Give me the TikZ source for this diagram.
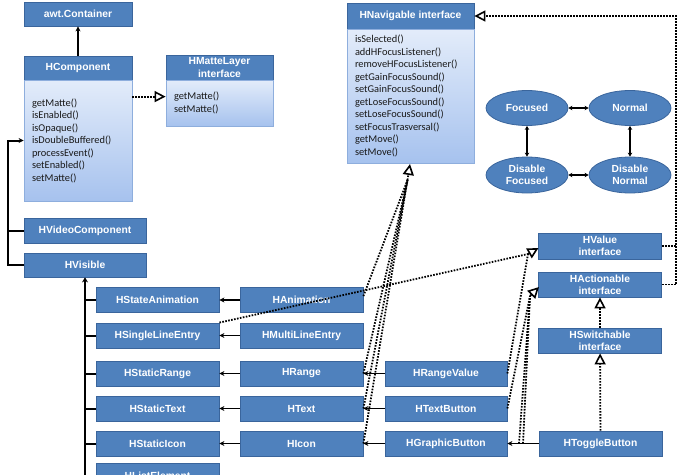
\documentclass[tikz,border=0pt]{standalone}
\usepackage{fontspec}
\setmainfont{Liberation Sans}
\newfontfamily\methfont{Carlito}
\usetikzlibrary{arrows.meta,calc,shapes.geometric}
\definecolor{hdr}{HTML}{4F81BD}
\definecolor{hdrdraw}{HTML}{3A659C}
\definecolor{bodytop}{HTML}{E3ECFA}
\definecolor{bodybot}{HTML}{A6C2EE}
\definecolor{bodydraw}{HTML}{8EAEDD}
\begin{document}
\begin{tikzpicture}[x=1pt,y=-1pt,
  cls/.style={draw=hdrdraw, fill=hdr, text=white, line width=0.8pt,
    font=\fontsize{10.3}{12.3}\selectfont\bfseries, inner sep=0pt,
    minimum height=25pt, minimum width=123pt, align=center},
  body/.style={draw=bodydraw, top color=bodytop, bottom color=bodybot, line width=0.8pt,
    inner xsep=8pt, inner ysep=0pt, align=left, text=black!90,
    font=\methfont\fontsize{10.4}{12.5}\selectfont},
  st/.style={ellipse, draw=hdrdraw, fill=hdr, text=white, line width=0.8pt,
    font=\fontsize{10.3}{12.3}\selectfont\bfseries, inner sep=0pt,
    minimum width=82pt, minimum height=35pt, align=center},
  inh/.style={line width=1.5pt, -{Stealth[length=5pt,width=5pt]}},
  bidi/.style={line width=1.3pt, {Stealth[length=4pt,width=4.5pt]}-{Stealth[length=4pt,width=4.5pt]}},
  real/.style={line width=1.8pt, dash pattern=on 1.6pt off 1.4pt},
  realtri/.style={real, -{Triangle[open,length=11pt,width=11pt,line width=1.6pt]}}
]
\useasboundingbox (0,0) rectangle (682,474);
\clip (0,0) rectangle (682,474);

% top-left classes
\node[cls, minimum width=108pt, minimum height=24pt] (awt) at (78,14) {awt.Container};
\node[cls, minimum width=108pt, minimum height=24pt] (hcomp) at (78,68) {HComponent};
\node[body, minimum width=108pt, text width=92pt, minimum height=121pt] (hcompb) at (78,140.5)
  {getMatte()\\isEnabled()\\isOpaque()\\isDoubleBuffered()\\processEvent()\\setEnabled()\\setMatte()};
\node[cls, minimum width=107pt, minimum height=25pt] (matte) at (219.5,67.5) {HMatteLayer\\interface};
\node[body, minimum width=107pt, text width=91pt, minimum height=46pt] (matteb) at (219.5,103)
  {getMatte()\\setMatte()};

% HNavigable
\node[cls, minimum width=127pt, minimum height=26pt] (nav) at (410.5,16) {HNavigable interface};
\node[body, minimum width=127pt, text width=111pt, minimum height=134pt] (navb) at (410.5,96)
  {isSelected()\\addHFocusListener()\\removeHFocusListener()\\getGainFocusSound()\\setGainFocusSound()\\getLoseFocusSound()\\setLoseFocusSound()\\setFocusTrasversal()\\getMove()\\setMove()};

% states
\node[st] (foc) at (527,108) {Focused};
\node[st] (nor) at (630,108) {Normal};
\node[st, minimum height=36pt] (dfoc) at (527,175) {Disable\\Focused};
\node[st, minimum height=36pt] (dnor) at (630,175) {Disable\\Normal};
\draw[bidi] (foc) -- (nor);
\draw[bidi] (dfoc) -- (dnor);
\draw[bidi] (foc) -- (dfoc);
\draw[bidi] (nor) -- (dnor);

% left hierarchy
\node[cls, minimum width=122pt] (hvid) at (85,230.5) {HVideoComponent};
\node[cls, minimum width=122pt, minimum height=24pt] (hvis) at (85,265) {HVisible};

\node[cls] (hsa) at (157.5,300) {HStateAnimation};
\node[cls] (hsle) at (157.5,335.5) {HSingleLineEntry};
\node[cls] (hsr) at (157.5,373.5) {HStaticRange};
\node[cls] (hst) at (157.5,408.5) {HStaticText};
\node[cls] (hsi) at (157.5,443.5) {HStaticIcon};
\node[cls] (hle) at (157.5,476) {HListElement};

\node[cls] (hanim) at (301.5,300) {HAnimation};
\node[cls] (hmle) at (301.5,335.5) {HMultiLineEntry};
\node[cls] (hrange) at (301.5,373.5) {HRange};
\node[cls] (htext) at (301.5,408.5) {HText};
\node[cls] (hicon) at (301.5,443.5) {HIcon};

\node[cls, minimum width=122pt] (hrv) at (446,373.5) {HRangeValue};
\node[cls, minimum width=122pt] (htb) at (446,408.5) {HTextButton};
\node[cls, minimum width=122pt] (hgb) at (446,443.5) {HGraphicButton};
\node[cls] (htog) at (600.5,443.5) {HToggleButton};

\node[cls, minimum height=26pt] (hval) at (600,246) {HValue\\interface};
\node[cls] (hact) at (600,284.5) {HActionable\\interface};
\node[cls] (hsw) at (600,340.5) {HSwitchable\\interface};

% solid inheritance
\draw[line width=2pt, -{Stealth[length=5pt,width=5pt]}] (hcomp) -- (awt);
\draw[line width=2pt, -{Stealth[length=5pt,width=5pt]}] (hvis.west) -- ++(-16,0) |- (hcompb.west);
\draw[line width=2pt] (hvid.west) -- ++(-16,0);
\coordinate (vbot) at (85,480);
\draw[line width=2.8pt, -{Stealth[length=5pt,width=6pt]}] (vbot) -- (hvis.south);
\foreach \n in {hsa,hsle,hsr,hst,hsi,hle}{
  \draw[line width=2pt] (\n.west -| hvis.south) -- (\n.west);
}
\draw[inh] (hanim) -- (hsa);
\draw[inh] (hmle) -- (hsle);
\draw[inh] (hrange) -- (hsr);
\draw[inh] (htext) -- (hst);
\draw[inh] (hicon) -- (hsi);
\draw[inh] (hrv) -- (hrange);
\draw[inh] (htb) -- (htext);
\draw[inh] (hgb) -- (hicon);
\draw[inh] (htog) -- (hgb);

% realizations
\draw[realtri] ($(hcompb.north east)+(0,17)$) -- ($(matteb.north west)+(0,17)$);

\coordinate (navtip) at (410,164);
\coordinate (navbase) at (407.5,180);
\draw[real] ($(hanim.north east)+(0,9)$) -- (navbase);
\draw[real] (hrange.east) -- (navbase);
\draw[real] (htext.east) -- (navbase);
\draw[real] (hicon.east) -- (navbase);
\draw[realtri] (navbase) -- (navtip);

\coordinate (valtip) at (538.5,248);
\coordinate (valbase) at (528,254);
\draw[real] (hsle.north east) -- (valbase);
\draw[real] (hrv.east) -- (valbase);
\draw[realtri] (valbase) -- (valtip);

\coordinate (acttip) at (539,287);
\coordinate (actbase) at (530,296);
\coordinate (gb1) at (519,443.5);
\coordinate (gb2) at (523,443.5);
\draw[real] (htb.east) -- (actbase);
\draw[real] (gb1) -- (actbase);
\draw[real] (gb2) -- (actbase);
\draw[realtri] (actbase) -- (acttip);

\draw[realtri] (hsw) -- (hact);
\draw[realtri] (htog) -- (hsw);

\coordinate (rc) at (676,284.5);
\draw[realtri] (hact.east) -- (rc) |- (nav.east);
\draw[real] (hval.east) -- (hval.east -| rc);
\end{tikzpicture}
\end{document}
